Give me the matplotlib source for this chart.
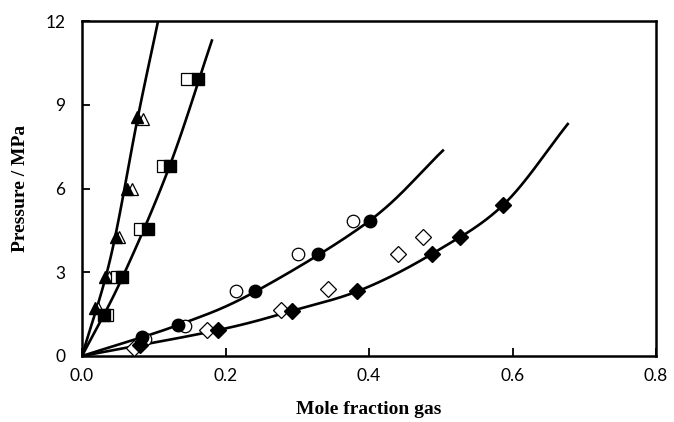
import numpy as np
import matplotlib
matplotlib.use('Agg')
import matplotlib.pyplot as plt

# Experimental points (filled = one data set, open = literature)
triFilledX = [0.018, 0.032, 0.047, 0.062, 0.077]
triFilledY = [1.71, 2.84, 4.28, 6.00, 8.55]
triOpenX = [0.022, 0.037, 0.052, 0.069, 0.085]
triOpenY = [1.71, 2.84, 4.28, 6.00, 8.50]

sqFilledX = [0.031, 0.056, 0.092, 0.122, 0.162]
sqFilledY = [1.47, 2.84, 4.55, 6.82, 9.91]
sqOpenX = [0.035, 0.049, 0.081, 0.113, 0.147]
sqOpenY = [1.47, 2.84, 4.55, 6.82, 9.91]

cirFilledX = [0.083, 0.134, 0.241, 0.329, 0.401]
cirFilledY = [0.69, 1.11, 2.34, 3.66, 4.85]
cirOpenX = [0.088, 0.143, 0.215, 0.301, 0.377]
cirOpenY = [0.62, 1.09, 2.34, 3.66, 4.85]

diaFilledX = [0.081, 0.190, 0.293, 0.383, 0.488, 0.527, 0.587]
diaFilledY = [0.39, 0.93, 1.62, 2.34, 3.66, 4.25, 5.41]
diaOpenX = [0.072, 0.174, 0.277, 0.343, 0.440, 0.475]
diaOpenY = [0.30, 0.93, 1.65, 2.39, 3.65, 4.25]

# Model curves, control points
triCurveX = [0, 0.040, 0.077, 0.106]
triCurveY = [0, 3.55, 8.45, 12.0]
sqCurveX = [0, 0.056, 0.122, 0.181]
sqCurveY = [0, 2.80, 6.80, 11.3]
cirCurveX = [0, 0.134, 0.241, 0.401, 0.503]
cirCurveY = [0, 1.11, 2.30, 4.85, 7.36]
diaCurveX = [0, 0.190, 0.293, 0.390, 0.488, 0.587, 0.677]
diaCurveY = [0, 0.93, 1.62, 2.38, 3.66, 5.41, 8.31]


def smooth(xs, ys, n=40):
    # Catmull-Rom through the read points, just to draw them as a smooth line
    p = np.column_stack([xs, ys]).astype(float)
    p = np.vstack([2 * p[0] - p[1], p, 2 * p[-1] - p[-2]])
    out = []
    t = np.linspace(0, 1, n, endpoint=False)[:, None]
    for i in range(1, len(p) - 2):
        p0, p1, p2, p3 = p[i - 1], p[i], p[i + 1], p[i + 2]
        seg = 0.5 * ((2 * p1) + (-p0 + p2) * t + (2 * p0 - 5 * p1 + 4 * p2 - p3) * t ** 2
                     + (-p0 + 3 * p1 - 3 * p2 + p3) * t ** 3)
        out.append(seg)
    out.append(p[-2][None, :])
    out = np.vstack(out)
    return out[:, 0], out[:, 1]


fig = plt.figure(figsize=(6.74, 4.22), dpi=100)
ax = fig.add_axes([0.1217, 0.1564, 0.8516, 0.7938])

lw = 1.9
for cx, cy in [(triCurveX, triCurveY), (sqCurveX, sqCurveY),
               (cirCurveX, cirCurveY), (diaCurveX, diaCurveY)]:
    sx, sy = smooth(cx, cy)
    ax.plot(sx, sy, color='black', linewidth=lw, zorder=2)

# open markers
ax.plot(triOpenX, triOpenY, '^', ms=9, mfc='white', mec='black', mew=0.9, zorder=3)
ax.plot(sqOpenX, sqOpenY, 's', ms=9, mfc='white', mec='black', mew=0.9, zorder=3)
ax.plot(cirOpenX, cirOpenY, 'o', ms=9, mfc='white', mec='black', mew=0.9, zorder=3)
ax.plot(diaOpenX, diaOpenY, 'D', ms=8.3, mfc='white', mec='black', mew=0.9, zorder=3)

# filled markers
ax.plot(triFilledX, triFilledY, '^', ms=9, color='black', zorder=4)
ax.plot(sqFilledX, sqFilledY, 's', ms=9, color='black', zorder=4)
ax.plot(cirFilledX, cirFilledY, 'o', ms=9, color='black', zorder=4)
ax.plot(diaFilledX, diaFilledY, 'D', ms=8.3, color='black', zorder=4)

ax.set_xlim(0, 0.8)
ax.set_ylim(0, 12)
ax.set_xticks([0.0, 0.2, 0.4, 0.6, 0.8])
ax.set_xticklabels(['0.0', '0.2', '0.4', '0.6', '0.8'])
ax.set_yticks([0, 3, 6, 9, 12])

for spine in ax.spines.values():
    spine.set_linewidth(1.8)

ax.tick_params(direction='in', length=6, width=1.3, labelsize=12.5, pad=9)
for lab in ax.get_xticklabels() + ax.get_yticklabels():
    lab.set_family('Lato')
ax.tick_params(axis='y', pad=12)

ax.set_xlabel('Mole fraction gas', family='Liberation Serif', fontweight='bold', fontsize=14, labelpad=12)
ax.set_ylabel('Pressure / MPa', family='Liberation Serif', fontweight='bold', fontsize=14, labelpad=12)

fig.savefig('out.png', dpi=100)
